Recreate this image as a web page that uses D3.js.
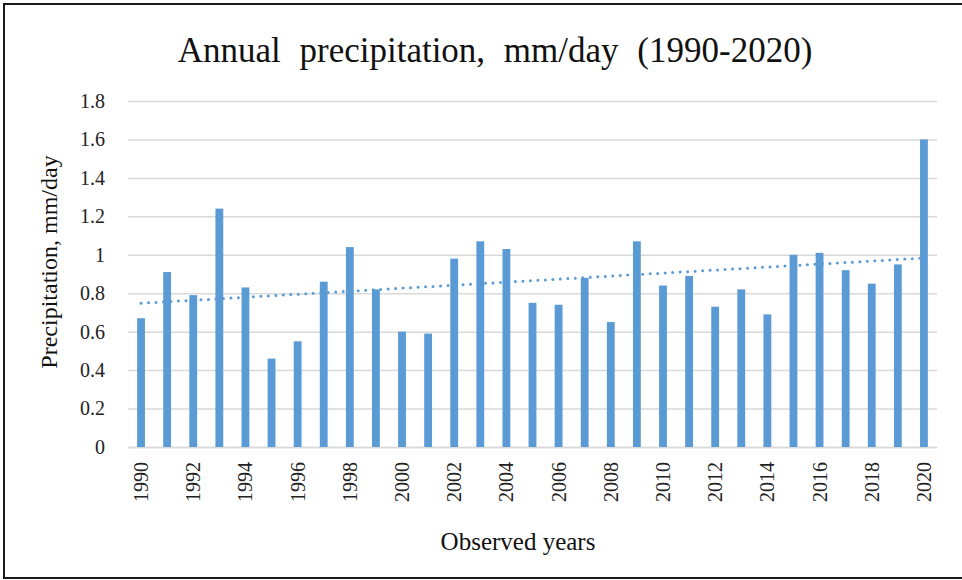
<!DOCTYPE html>
<html>
<head>
<meta charset="utf-8">
<script src="https://cdn.jsdelivr.net/npm/d3@7"></script>
<style>
  body { margin: 0; background: #fff; }
  svg { display: block; font-family: "Liberation Serif", "Times New Roman", serif; }
</style>
</head>
<body>
<div id="chart"></div>
<script>
// chart data
const years = d3.range(1990, 2021);
const precip = [0.67, 0.91, 0.79, 1.24, 0.83, 0.46, 0.55, 0.86, 1.04, 0.82,
                0.60, 0.59, 0.98, 1.07, 1.03, 0.75, 0.74, 0.88, 0.65, 1.07,
                0.84, 0.89, 0.73, 0.82, 0.69, 1.00, 1.01, 0.92, 0.85, 0.95,
                1.60];
const yTicks = [0, 0.2, 0.4, 0.6, 0.8, 1, 1.2, 1.4, 1.6, 1.8];
const xTickYears = years.filter(y => y % 2 === 0);

const width = 962;
const height = 580;
const margin = { top: 101, right: 25, bottom: 133, left: 128 };
const barColor = "#5b9bd5";
const serif = "'Liberation Serif', 'Times New Roman', serif";

const svg = d3.select("#chart")
    .append("svg")
    .attr("width", width)
    .attr("height", height);

// outer frame
svg.append("rect")
    .attr("x", 4).attr("y", 4)
    .attr("width", width).attr("height", 574)
    .attr("fill", "none")
    .attr("stroke", "#1a1a1a")
    .attr("stroke-width", 2);

const x = d3.scaleBand()
    .domain(years)
    .range([margin.left, width - margin.right])
    .paddingInner(0.7)
    .paddingOuter(0.35);

const y = d3.scaleLinear()
    .domain([0, 1.8])
    .range([height - margin.bottom, margin.top]);

// gridlines + y labels
const yAxis = svg.append("g")
    .attr("transform", `translate(${margin.left},0)`)
    .call(d3.axisLeft(y)
        .tickValues(yTicks)
        .tickSize(-(width - margin.right - margin.left))
        .tickPadding(23)
        .tickFormat(d => d3.format("")(+d.toFixed(1))))
    .attr("font-family", serif)
    .attr("font-size", 20);
yAxis.select(".domain").remove();
yAxis.selectAll(".tick line")
    .attr("stroke", "#d9d9d9")
    .attr("stroke-width", 1.5);
yAxis.selectAll(".tick text")
    .attr("fill", "#222");

// x axis
const xAxis = svg.append("g")
    .attr("transform", `translate(0,${height - margin.bottom})`)
    .call(d3.axisBottom(x).tickValues(xTickYears).tickSize(0))
    .attr("font-family", serif)
    .attr("font-size", 20);
xAxis.select(".domain")
    .attr("stroke", "#d9d9d9")
    .attr("stroke-width", 1.5);
xAxis.selectAll(".tick text")
    .attr("transform", "rotate(-90)")
    .attr("text-anchor", "end")
    .attr("x", -15)
    .attr("y", 0)
    .attr("dy", "0.35em")
    .attr("fill", "#222");

// bars
svg.selectAll(".bar")
    .data(years)
    .enter().append("rect")
    .attr("class", "bar")
    .attr("x", d => x(d))
    .attr("width", x.bandwidth())
    .attr("y", (d, i) => y(precip[i]))
    .attr("height", (d, i) => y(0) - y(precip[i]))
    .attr("fill", barColor);

// linear trendline (least squares over the bars)
const n = precip.length;
const mx = d3.mean(years);
const my = d3.mean(precip);
const slope = d3.sum(years, (d, i) => (d - mx) * (precip[i] - my)) /
              d3.sum(years, d => (d - mx) * (d - mx));
const trend = d => my + slope * (d - mx);
const half = x.bandwidth() / 2;
svg.append("line")
    .attr("x1", x(years[0]) + half)
    .attr("x2", x(years[n - 1]) + half)
    .attr("y1", y(trend(years[0])))
    .attr("y2", y(trend(years[n - 1])))
    .attr("stroke", barColor)
    .attr("stroke-width", 3)
    .attr("stroke-linecap", "round")
    .attr("stroke-dasharray", "0 7.5");

// title
svg.append("text")
    .attr("x", 495)
    .attr("y", 62)
    .attr("text-anchor", "middle")
    .style("font-size", "35px")
    .style("word-spacing", "10px")
    .attr("fill", "#111")
    .text("Annual precipitation, mm/day (1990-2020)");

// axis titles
svg.append("text")
    .attr("transform", "translate(57,262) rotate(-90)")
    .attr("text-anchor", "middle")
    .style("font-size", "24px")
    .attr("fill", "#111")
    .text("Precipitation, mm/day");

svg.append("text")
    .attr("x", 518)
    .attr("y", 550)
    .attr("text-anchor", "middle")
    .style("font-size", "25px")
    .attr("fill", "#111")
    .text("Observed years");
</script>
</body>
</html>
